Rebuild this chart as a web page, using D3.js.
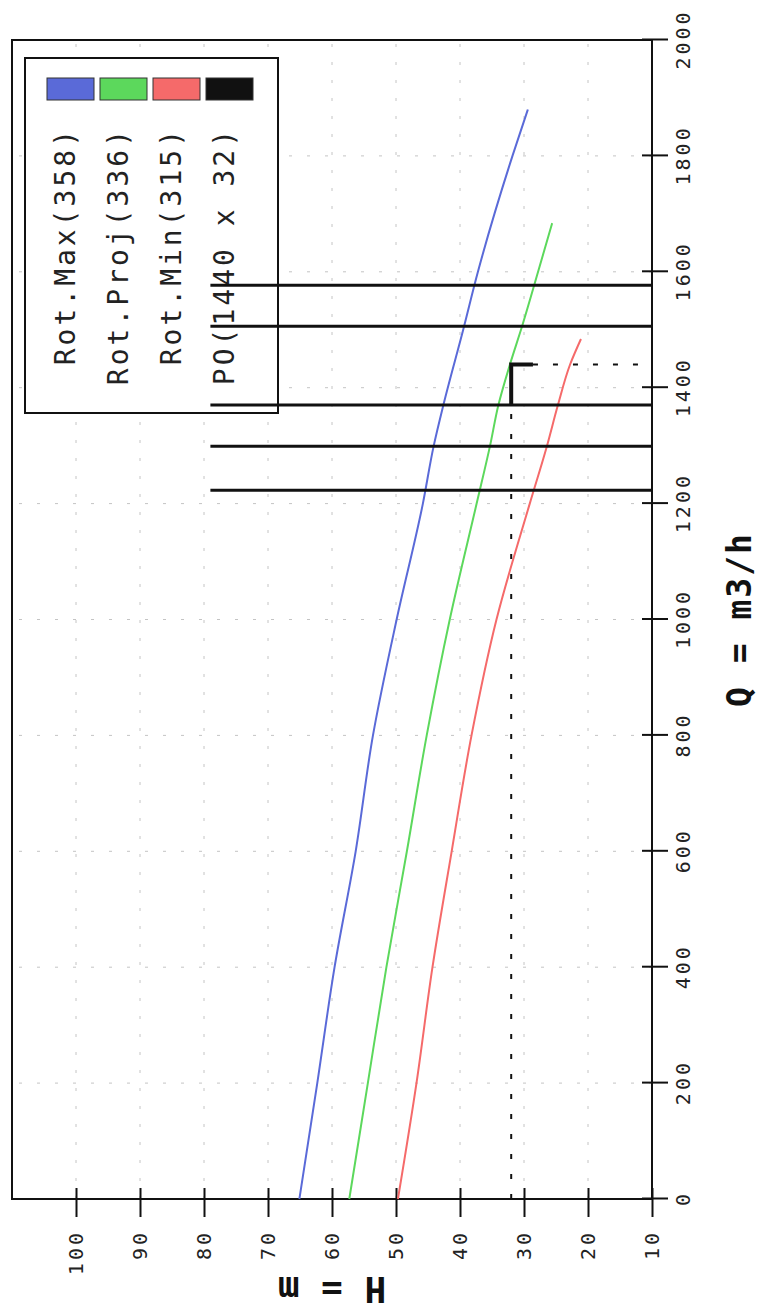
<!DOCTYPE html>
<meta charset="utf-8">
<style>
body { margin: 0; background: #fff; }
svg { display: block; background: #fff; }
.grid line { stroke: #c4c4c4; stroke-width: 1; stroke-dasharray: 3,15; }
.curve { fill: none; stroke-width: 2; }
</style>
<svg width="761" height="1311"></svg>
<script src="https://d3js.org/d3.v7.min.js"></script>
<script>
// chart is drawn upright, then turned a quarter turn left
var qTicks = [0, 200, 400, 600, 800, 1000, 1200, 1400, 1600, 1800, 2000];
var hTicks = [10, 20, 30, 40, 50, 60, 70, 80, 90, 100];

var qMax = [0, 200, 400, 600, 800, 1000, 1200, 1300, 1370, 1500, 1600, 1800, 1880];
var hMax = [65.1, 62.3, 59.6, 56.3, 53.6, 49.9, 45.8, 44.1, 42.6, 39.5, 37.2, 31.8, 29.4];

var qProj = [0, 200, 400, 600, 800, 1000, 1200, 1300, 1370, 1440, 1506, 1600, 1684];
var hProj = [57.3, 54.4, 51.5, 48.3, 45.2, 41.6, 37.4, 35.3, 34.0, 32.2, 30.3, 27.8, 25.6];

var qMin = [0, 200, 400, 600, 800, 1000, 1200, 1300, 1370, 1440, 1484];
var hMin = [49.7, 46.8, 44.3, 41.3, 38.2, 34.3, 29.1, 26.4, 24.7, 22.8, 21.1];

// operating point and the flow marks around it
var opQ = 1440, opH = 32;
var bracketQ = [1370, 1440, 1440];
var bracketH = [32, 32, 28.6];
var refQ = [1223, 1299, 1370, 1506, 1577];
var refTop = 79;

var names = ['Rot.Max(358)', 'Rot.Proj(336)', 'Rot.Min(315)', 'PO(1440 x 32)'];
var colors = ['#5a6ad8', '#5cd85c', '#f56a6a', '#111111'];

var svgElem = d3.select('svg');
var W = +svgElem.attr('height');   // upright width = page height
var margin = { left: 112, right: 40, top: 12, bottom: 109 };
var innerH = +svgElem.attr('width') - margin.bottom; // 652

var g = svgElem.append('g')
  .attr('transform', 'translate(0,' + W + ') rotate(-90)');

var x = d3.scaleLinear().domain([0, 2000]).range([margin.left, W - margin.right]);
var y = d3.scaleLinear().domain([10, 110]).range([innerH, margin.top]);

var mono = '"DejaVu Sans Mono", "Liberation Mono", monospace';

// grid
var grid = g.append('g').attr('class', 'grid');
grid.selectAll('.gq')
  .data(qTicks.slice(1, -1))
  .enter().append('line')
  .attr('x1', function (d) { return x(d); })
  .attr('x2', function (d) { return x(d); })
  .attr('y1', y(10)).attr('y2', y(110));
grid.selectAll('.gh')
  .data(hTicks.slice(1))
  .enter().append('line')
  .attr('y1', function (d) { return y(d); })
  .attr('y2', function (d) { return y(d); })
  .attr('x1', x(0)).attr('x2', x(2000));

// frame
g.append('rect')
  .attr('x', x(0)).attr('y', y(110))
  .attr('width', x(2000) - x(0)).attr('height', y(10) - y(110))
  .attr('fill', 'none').attr('stroke', '#111').attr('stroke-width', 2);

// axes
var axisH = g.append('g')
  .attr('transform', 'translate(' + x(0) + ',0)')
  .call(d3.axisLeft(y).tickValues(hTicks).tickSize(18).tickPadding(13).tickFormat(d3.format('d')));
axisH.select('.domain').remove();
axisH.selectAll('.tick line').attr('x1', 11).attr('stroke', '#111').attr('stroke-width', 2);
axisH.selectAll('.tick text')
  .attr('font-family', mono).attr('font-size', 20)
  .attr('letter-spacing', 3).attr('fill', '#222');

var axisQ = g.append('g')
  .attr('transform', 'translate(0,' + y(10) + ')')
  .call(d3.axisBottom(x).tickValues(qTicks).tickSize(16).tickPadding(8).tickFormat(d3.format('d')));
axisQ.select('.domain').remove();
axisQ.selectAll('.tick line').attr('y1', -10).attr('stroke', '#111').attr('stroke-width', 2);
axisQ.selectAll('.tick text')
  .attr('font-family', mono).attr('font-size', 20)
  .attr('letter-spacing', 3).attr('fill', '#222');

// axis titles
g.append('text')
  .attr('transform', 'translate(34,' + (y(10) + y(110)) / 2 + ') rotate(-90)')
  .attr('text-anchor', 'middle')
  .attr('font-family', mono).attr('font-weight', 'bold').attr('font-size', 36)
  .attr('fill', '#111')
  .text('H = m');
g.append('text')
  .attr('x', (x(0) + x(2000)) / 2).attr('y', 751)
  .attr('text-anchor', 'middle')
  .attr('font-family', mono).attr('font-weight', 'bold').attr('font-size', 33)
  .attr('letter-spacing', 2)
  .attr('fill', '#111')
  .text('Q = m3/h');

// pump curves
var line = d3.line()
  .x(function (d) { return x(d[0]); })
  .y(function (d) { return y(d[1]); })
  .curve(d3.curveMonotoneX);

[[qMax, hMax], [qProj, hProj], [qMin, hMin]].forEach(function (s, i) {
  g.append('path')
    .datum(d3.zip(s[0], s[1]))
    .attr('class', 'curve')
    .attr('stroke', colors[i])
    .attr('d', line);
});

// dashed guides to the operating point
g.append('line')
  .attr('x1', x(0)).attr('x2', x(bracketQ[0]))
  .attr('y1', y(opH)).attr('y2', y(opH))
  .attr('stroke', '#111').attr('stroke-width', 2).attr('stroke-dasharray', '5,15');
g.append('line')
  .attr('x1', x(opQ)).attr('x2', x(opQ))
  .attr('y1', y(bracketH[2])).attr('y2', y(10))
  .attr('stroke', '#111').attr('stroke-width', 2).attr('stroke-dasharray', '5,15');

// legend
var leg = g.append('g');
leg.append('rect')
  .attr('x', 898).attr('y', 25).attr('width', 355).attr('height', 253)
  .attr('fill', '#fff').attr('stroke', '#111').attr('stroke-width', 2);
var rows = leg.selectAll('.row')
  .data(names)
  .enter().append('g')
  .attr('transform', function (d, i) { return 'translate(0,' + (47 + i * 53) + ')'; });
rows.append('rect')
  .attr('x', 1211).attr('y', 0).attr('width', 22).attr('height', 47)
  .attr('fill', function (d, i) { return colors[i]; })
  .attr('stroke', '#333').attr('stroke-width', 1);
rows.append('text')
  .attr('x', 1184).attr('y', 28)
  .attr('text-anchor', 'end')
  .attr('font-family', mono).attr('font-size', 28).attr('letter-spacing', 3)
  .attr('fill', '#222')
  .text(function (d) { return d; });

// flow marks (drawn over the legend, as in the source)
g.selectAll('.ref')
  .data(refQ)
  .enter().append('line')
  .attr('x1', function (d) { return x(d); })
  .attr('x2', function (d) { return x(d); })
  .attr('y1', y(10)).attr('y2', y(refTop))
  .attr('stroke', '#111').attr('stroke-width', 3);

// operating point corner
g.append('path')
  .datum(d3.zip(bracketQ, bracketH))
  .attr('fill', 'none').attr('stroke', '#111').attr('stroke-width', 4)
  .attr('d', d3.line()
    .x(function (d) { return x(d[0]); })
    .y(function (d) { return y(d[1]); }));
</script>
